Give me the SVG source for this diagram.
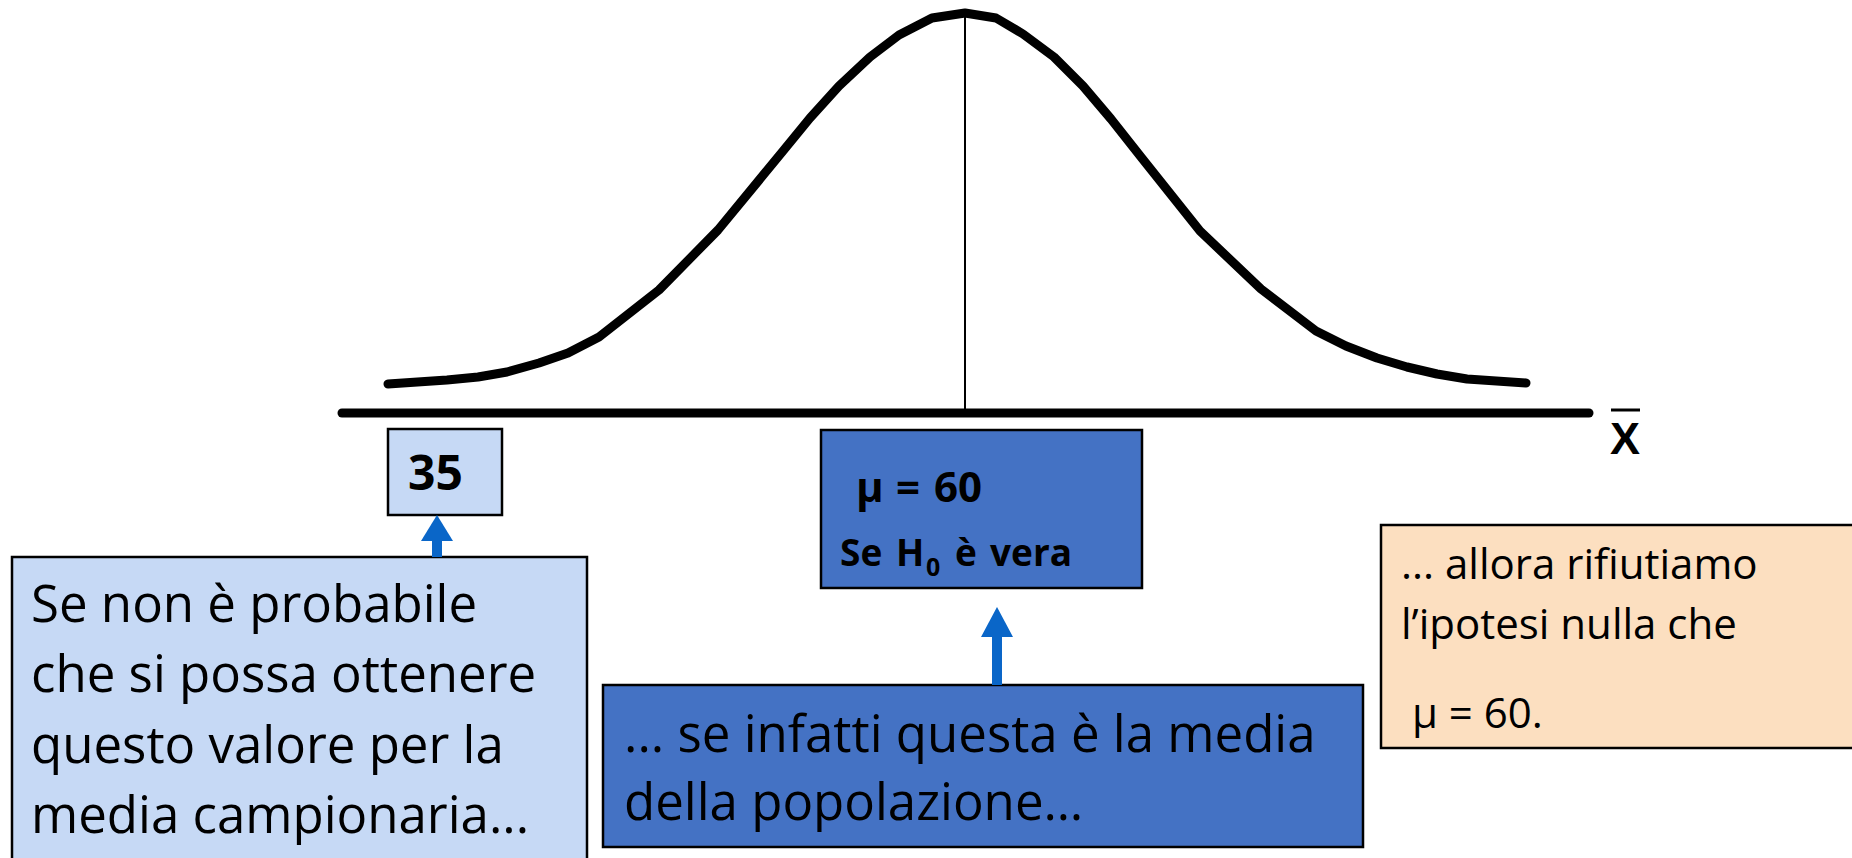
<svg xmlns="http://www.w3.org/2000/svg" width="1852" height="858" viewBox="0 0 1852 858">
<style>
.box{stroke:#000;stroke-width:2.5}
.light{fill:#C6D9F5}
.blue{fill:#4472C4}
.peach{fill:#FCDFC0}
.t{font-family:"Open Sans","Liberation Sans",sans-serif;fill:#000}
.b{font-weight:bold}
.arrow{stroke:#0A66C8;stroke-width:10;fill:none}
.head{fill:#0A66C8}
</style>
<rect width="1852" height="858" fill="#fff"/>
<g id="curve">
<polyline points="388,384 447,380 478,377 507,372 539,363 568,353 599,337 659,290 718,230 783,151 810,118 839,86 870,57 899,35 932,18 965,13 996,18 1023,34 1054,57 1083,86 1111,119 1141,157 1200,231 1261,289 1316,331 1346,346 1377,358 1407,367 1437,374 1467,379 1526,383" fill="none" stroke="#000" stroke-width="9" stroke-linejoin="round" stroke-linecap="round"/>
<line x1="965" y1="14" x2="965" y2="412" stroke="#000" stroke-width="2"/>
</g>
<g id="axis">
<line x1="342" y1="413" x2="1589" y2="413" stroke="#000" stroke-width="9" stroke-linecap="round"/>
<line x1="1611" y1="410" x2="1640" y2="410" stroke="#000" stroke-width="3"/>
<text x="1625" y="454" text-anchor="middle" font-family="Liberation Sans, Arial, sans-serif" font-weight="bold" font-size="45">X</text>
</g>
<g id="node-35">
<rect class="box light" x="388" y="429" width="114" height="86"/>
<text class="t b" x="408" y="490" font-size="48">35</text>
</g>
<g id="node-mu">
<rect class="box blue" x="821" y="430" width="321" height="158"/>
<text class="t b" y="502" font-size="42"><tspan x="856">μ</tspan><tspan x="896">=</tspan><tspan x="934">60</tspan></text>
<text class="t b" y="566" font-size="37"><tspan x="840">Se</tspan><tspan x="896">H</tspan><tspan x="926" y="576" font-size="25">0</tspan><tspan x="955" y="566">è</tspan><tspan x="990">vera</tspan></text>
</g>
<g id="node-left">
<rect class="box light" x="12" y="557" width="575" height="320"/>
<text class="t" font-size="51"><tspan x="31" y="622">Se non è probabile</tspan><tspan x="31" y="692">che si possa ottenere</tspan><tspan x="31" y="763">questo valore per la</tspan><tspan x="31" y="833">media campionaria...</tspan></text>
</g>
<g id="node-middle">
<rect class="box blue" x="603" y="685" width="760" height="162"/>
<text class="t" font-size="51"><tspan x="624" y="752">... se infatti questa è la media</tspan><tspan x="624" y="820">della popolazione…</tspan></text>
</g>
<g id="node-right">
<rect class="box peach" x="1381" y="525" width="490" height="223"/>
<text class="t" font-size="42"><tspan x="1401" y="579">... allora rifiutiamo</tspan><tspan x="1401" y="639">l’ipotesi nulla che</tspan><tspan x="1401" y="728"> μ = 60.</tspan></text>
</g>
<g id="connectors">
<line class="arrow" x1="437" y1="557" x2="437" y2="536"/>
<polygon class="head" points="437,515 453,541 421,541"/>
<line class="arrow" x1="997" y1="685" x2="997" y2="632"/>
<polygon class="head" points="997,607 1013,637 981,637"/>
</g>
</svg>
